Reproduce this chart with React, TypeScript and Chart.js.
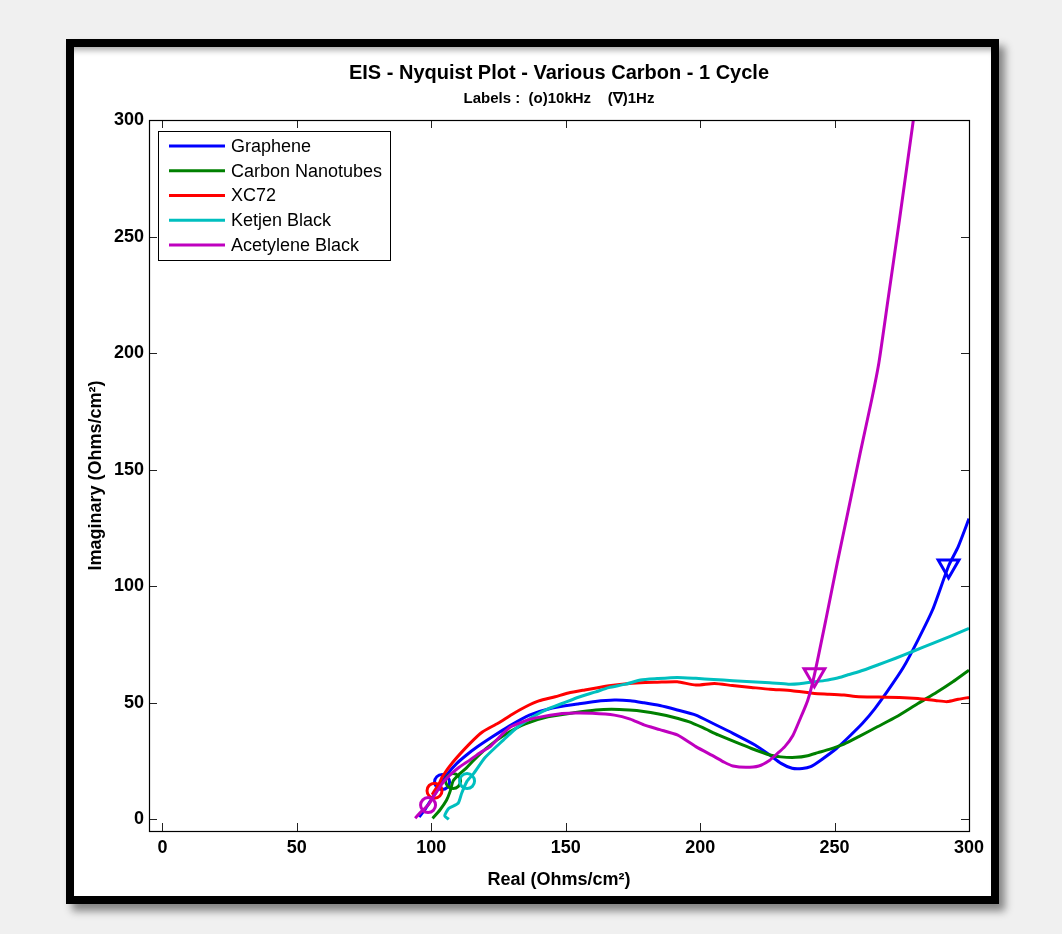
import React, { useEffect, useRef } from 'react';
import { Chart, registerables } from 'chart.js';

Chart.register(...registerables);

const FONT = '"Liberation Sans", Arial, Helvetica, sans-serif';

const titleText = 'EIS - Nyquist Plot - Various Carbon - 1 Cycle';
const subtitleText = 'Labels :  (o)10kHz    (\u2207)1Hz';
const xTitle = 'Real (Ohms/cm\u00B2)';
const yTitle = 'Imaginary (Ohms/cm\u00B2)';

const seriesNames = ['Graphene', 'Carbon Nanotubes', 'XC72', 'Ketjen Black', 'Acetylene Black'];
const seriesColors = ['#0000ff', '#008000', '#ff0000', '#00bfbf', '#bf00bf'];

const axisTicks = [0, 50, 100, 150, 200, 250, 300];
const xMin = -5;
const xMax = 300;
const yMin = -5;
const yMax = 300;

const grapheneRe = [95.5, 97.5, 100, 102.5, 104, 106, 109.5, 113, 117, 122.7, 129, 136.5, 145, 154.4, 161, 168.1, 174, 179.1, 185, 191.5, 198.4, 205, 212.2, 220.4, 225.9, 230.1, 234.2, 238, 241.1, 245, 250.7, 255, 260.4, 265, 270, 275.5, 281, 286.5, 292.4, 296, 300];
const grapheneIm = [1, 4, 8.5, 13, 16, 19.5, 24, 27.5, 31, 35.4, 40, 44.7, 47.8, 49.5, 50.6, 51.2, 50.9, 50, 48.8, 46.9, 44.7, 41, 36.9, 31.9, 27.6, 24, 21.9, 21.8, 22.6, 25.5, 30.4, 35, 41.2, 47.5, 55.5, 65, 76.9, 90, 108.7, 117, 129];

const cntRe = [100.5, 103.2, 105.7, 107, 108.1, 110.5, 113, 115.8, 121, 128.2, 135, 143.4, 153, 161.2, 167, 173.6, 179, 184.6, 190, 195.7, 201, 206.7, 213, 219.1, 225.9, 230, 235.6, 240, 243.8, 248, 253.5, 259, 265.9, 273, 281, 288, 294, 300];
const cntIm = [0.4, 4, 8.3, 12, 16.4, 19.5, 22, 25.4, 31, 36.9, 41, 44, 45.7, 46.9, 47.2, 46.9, 46.3, 45.2, 43.8, 41.9, 39.3, 36.2, 33.2, 30.4, 27.6, 26.8, 26.6, 27.3, 28.6, 30, 32.3, 35.5, 39.7, 44, 49.7, 54.5, 59, 64];

const xc72Re = [100.3, 101.2, 103, 104.1, 108, 114.4, 119, 124.8, 130, 135.1, 140, 146.1, 151, 157.1, 166.1, 171, 177.8, 184, 191.5, 198.4, 205.3, 212, 219, 226, 234.2, 242.5, 248, 253.5, 259, 266, 274.1, 281, 287.9, 292, 296, 300];
const xc72Im = [10.5, 12.3, 15.5, 18.3, 24.5, 32.6, 37.5, 41.2, 45, 48.3, 50.8, 52.6, 54.2, 55.5, 57.3, 58, 58.6, 58.8, 59, 57.6, 58.3, 57.4, 56.6, 55.8, 55.2, 54, 53.7, 53.3, 52.6, 52.5, 52.3, 51.8, 50.9, 50.5, 51.5, 52.3];

const ketjenRe = [106.5, 105, 106.5, 110, 111.3, 113.3, 115.8, 120, 126.8, 132, 137.8, 143, 148.9, 155, 161.2, 166, 172.3, 177.8, 184, 191.5, 198.4, 205, 212.2, 219, 225.9, 232.8, 237, 242.5, 246, 250.7, 255, 259, 266, 272.7, 279, 286.5, 293, 300];
const ketjenIm = [0, 1.5, 4.7, 6.9, 11.2, 16.4, 19.7, 26.5, 34, 39.5, 44, 47.2, 49.8, 52.5, 54.7, 56.5, 58, 59.8, 60.4, 60.9, 60.5, 60, 59.5, 59, 58.6, 58, 58.2, 59, 59.5, 60.5, 62, 63.3, 66.2, 69.1, 72, 75.5, 78.5, 81.9];

const acetyleneRe = [94, 96, 98.8, 101, 103.5, 106.3, 110, 114.3, 118, 121.8, 125.5, 129.6, 137, 147.5, 153, 159.9, 168.1, 174, 179.1, 185, 191.5, 198.4, 205.3, 209, 212.2, 217, 221.8, 225.9, 228.5, 231.5, 234.5, 237, 240, 242.5, 247, 251, 255, 259.5, 263.8, 266.5, 270, 274, 279.3];
const acetyleneIm = [0.5, 3, 6.1, 10, 14.5, 18.3, 22, 25.4, 28.5, 31.1, 35.5, 39.7, 43, 45.2, 45.6, 45.5, 44.7, 43, 40.5, 38.5, 36.2, 31.2, 26.9, 24.5, 22.9, 22.3, 22.9, 25.4, 28, 31.2, 36, 42.6, 51, 62, 87, 110, 132, 157, 180, 196, 224, 256, 300];

// 10 kHz points (o), one per series
const tenKHzRe = [104, 108.1, 101.2, 113.3, 98.8];
const tenKHzIm = [16, 16.4, 12.3, 16.4, 6.1];
// 1 Hz points (triangle), visible for Graphene and Acetylene Black
const oneHzSeries = [0, 4];
const oneHzRe = [292.4, 242.5];
const oneHzIm = [108.7, 62];

const seriesRe = [grapheneRe, cntRe, xc72Re, ketjenRe, acetyleneRe];
const seriesIm = [grapheneIm, cntIm, xc72Im, ketjenIm, acetyleneIm];

const zip = (xs: number[], ys: number[]) => xs.map((x, i) => ({ x, y: ys[i] }));

function buildDatasets() {
  const ds: any[] = [];
  seriesNames.forEach((name, i) => {
    const base = 10 - i * 2;
    ds.push({
      label: name,
      data: zip(seriesRe[i], seriesIm[i]),
      showLine: true,
      borderColor: seriesColors[i],
      backgroundColor: seriesColors[i],
      borderWidth: 3,
      pointRadius: 0,
      tension: 0.2,
      clip: 0,
      order: base,
    });
    ds.push({
      label: name + ' 10kHz',
      data: [{ x: tenKHzRe[i], y: tenKHzIm[i] }],
      showLine: false,
      pointStyle: 'circle',
      pointRadius: 7.5,
      pointBorderWidth: 3,
      pointBorderColor: seriesColors[i],
      pointBackgroundColor: 'rgba(0,0,0,0)',
      order: base - 1,
    });
    const k = oneHzSeries.indexOf(i);
    if (k >= 0) {
      ds.push({
        label: name + ' 1Hz',
        data: [{ x: oneHzRe[k], y: oneHzIm[k] }],
        showLine: false,
        pointStyle: 'triangle',
        rotation: 180,
        pointRadius: 12,
        pointBorderWidth: 3,
        pointBorderColor: seriesColors[i],
        pointBackgroundColor: 'rgba(0,0,0,0)',
        order: base - 1,
      });
    }
  });
  return ds;
}

const axesBoxPlugin = {
  id: 'axesBox',
  afterDraw(chart: any) {
    const { ctx, chartArea } = chart;
    const { left, right, top, bottom } = chartArea;
    const xs = chart.scales.x;
    const ys = chart.scales.y;
    const tl = 8;
    ctx.save();
    ctx.strokeStyle = '#222';
    ctx.lineWidth = 1;
    ctx.beginPath();
    axisTicks.forEach((v) => {
      const px = Math.round(xs.getPixelForValue(v)) + 0.5;
      ctx.moveTo(px, bottom);
      ctx.lineTo(px, bottom - tl);
      ctx.moveTo(px, top);
      ctx.lineTo(px, top + tl);
      const py = Math.round(ys.getPixelForValue(v)) + 0.5;
      ctx.moveTo(left, py);
      ctx.lineTo(left + tl, py);
      ctx.moveTo(right, py);
      ctx.lineTo(right - tl, py);
    });
    ctx.stroke();
    ctx.strokeStyle = '#000';
    ctx.lineWidth = 1.2;
    ctx.strokeRect(Math.round(left) + 0.5, Math.round(top) + 0.5, Math.round(right - left), Math.round(bottom - top));
    ctx.restore();
  },
};

const boxLegendPlugin = {
  id: 'boxLegend',
  afterDraw(chart: any) {
    const { ctx, chartArea } = chart;
    const x0 = Math.round(chartArea.left + 9);
    const y0 = Math.round(chartArea.top + 11);
    const w = 232;
    const h = 129;
    ctx.save();
    ctx.fillStyle = '#fff';
    ctx.fillRect(x0, y0, w, h);
    ctx.strokeStyle = '#000';
    ctx.lineWidth = 1;
    ctx.strokeRect(x0 + 0.5, y0 + 0.5, w, h);
    ctx.font = `18px ${FONT}`;
    ctx.textBaseline = 'middle';
    ctx.textAlign = 'left';
    seriesNames.forEach((name, i) => {
      const y = y0 + 15 + i * 24.75;
      ctx.strokeStyle = seriesColors[i];
      ctx.lineWidth = 3;
      ctx.beginPath();
      ctx.moveTo(x0 + 11, y);
      ctx.lineTo(x0 + 67, y);
      ctx.stroke();
      ctx.fillStyle = '#000';
      ctx.fillText(name, x0 + 73, y + 1);
    });
    ctx.restore();
  },
};

export default function App() {
  const ref = useRef<HTMLCanvasElement>(null);
  useEffect(() => {
    if (!ref.current) return;
    Chart.defaults.font.family = FONT;
    const chart = new Chart(ref.current, {
      type: 'scatter',
      data: { datasets: buildDatasets() },
      options: {
        responsive: false,
        animation: false,
        devicePixelRatio: 1,
        events: [],
        layout: { padding: { left: 0, top: 0, right: 93, bottom: 0 } },
        plugins: {
          legend: { display: false },
          tooltip: { enabled: false },
          title: {
            display: true,
            text: titleText,
            fullSize: false,
            color: '#000',
            font: { size: 20, weight: 'bold', lineHeight: 1 },
            padding: { top: 63, bottom: 0 },
          },
          subtitle: {
            display: true,
            text: subtitleText,
            fullSize: false,
            color: '#000',
            font: { size: 15, weight: 'bold', lineHeight: 1 },
            padding: { top: 8, bottom: 14 },
          },
        },
        scales: {
          x: {
            type: 'linear',
            min: xMin,
            max: xMax,
            afterBuildTicks: (s: any) => {
              s.ticks = axisTicks.map((v) => ({ value: v }));
            },
            afterFit: (s: any) => {
              s.height = 103;
            },
            grid: { display: false, drawTicks: false },
            border: { display: false },
            ticks: {
              color: '#000',
              font: { size: 18, weight: 'bold' },
              padding: 6,
              maxRotation: 0,
              autoSkip: false,
            },
            title: {
              display: true,
              text: xTitle,
              color: '#000',
              font: { size: 18, weight: 'bold' },
              padding: { top: 0, bottom: 43 },
            },
          },
          y: {
            type: 'linear',
            min: yMin,
            max: yMax,
            afterBuildTicks: (s: any) => {
              s.ticks = axisTicks.map((v) => ({ value: v }));
            },
            afterFit: (s: any) => {
              s.width = 149;
            },
            grid: { display: false, drawTicks: false },
            border: { display: false },
            ticks: {
              color: '#000',
              font: { size: 18, weight: 'bold' },
              padding: 5,
              autoSkip: false,
            },
            title: {
              display: true,
              text: yTitle,
              color: '#000',
              font: { size: 18, weight: 'bold' },
              padding: { top: 85, bottom: 0 },
            },
          },
        },
      } as any,
      plugins: [axesBoxPlugin, boxLegendPlugin],
    });
    return () => chart.destroy();
  }, []);

  return (
    <div
      style={{
        position: 'fixed',
        left: 0,
        top: 0,
        width: 1062,
        height: 934,
        background: '#f0f0f0',
        overflow: 'hidden',
      }}
    >
      <div
        style={{
          position: 'absolute',
          left: 66,
          top: 39,
          width: 933,
          height: 865,
          boxSizing: 'border-box',
          border: '8px solid #000',
          background: '#fff',
          boxShadow: '6px 7px 8px rgba(0,0,0,0.45), inset 0 8px 6px -5px rgba(0,0,0,0.35)',
        }}
      />
      <canvas
        ref={ref}
        width={1062}
        height={934}
        style={{ position: 'absolute', left: 0, top: 0, width: 1062, height: 934 }}
      />
    </div>
  );
}
